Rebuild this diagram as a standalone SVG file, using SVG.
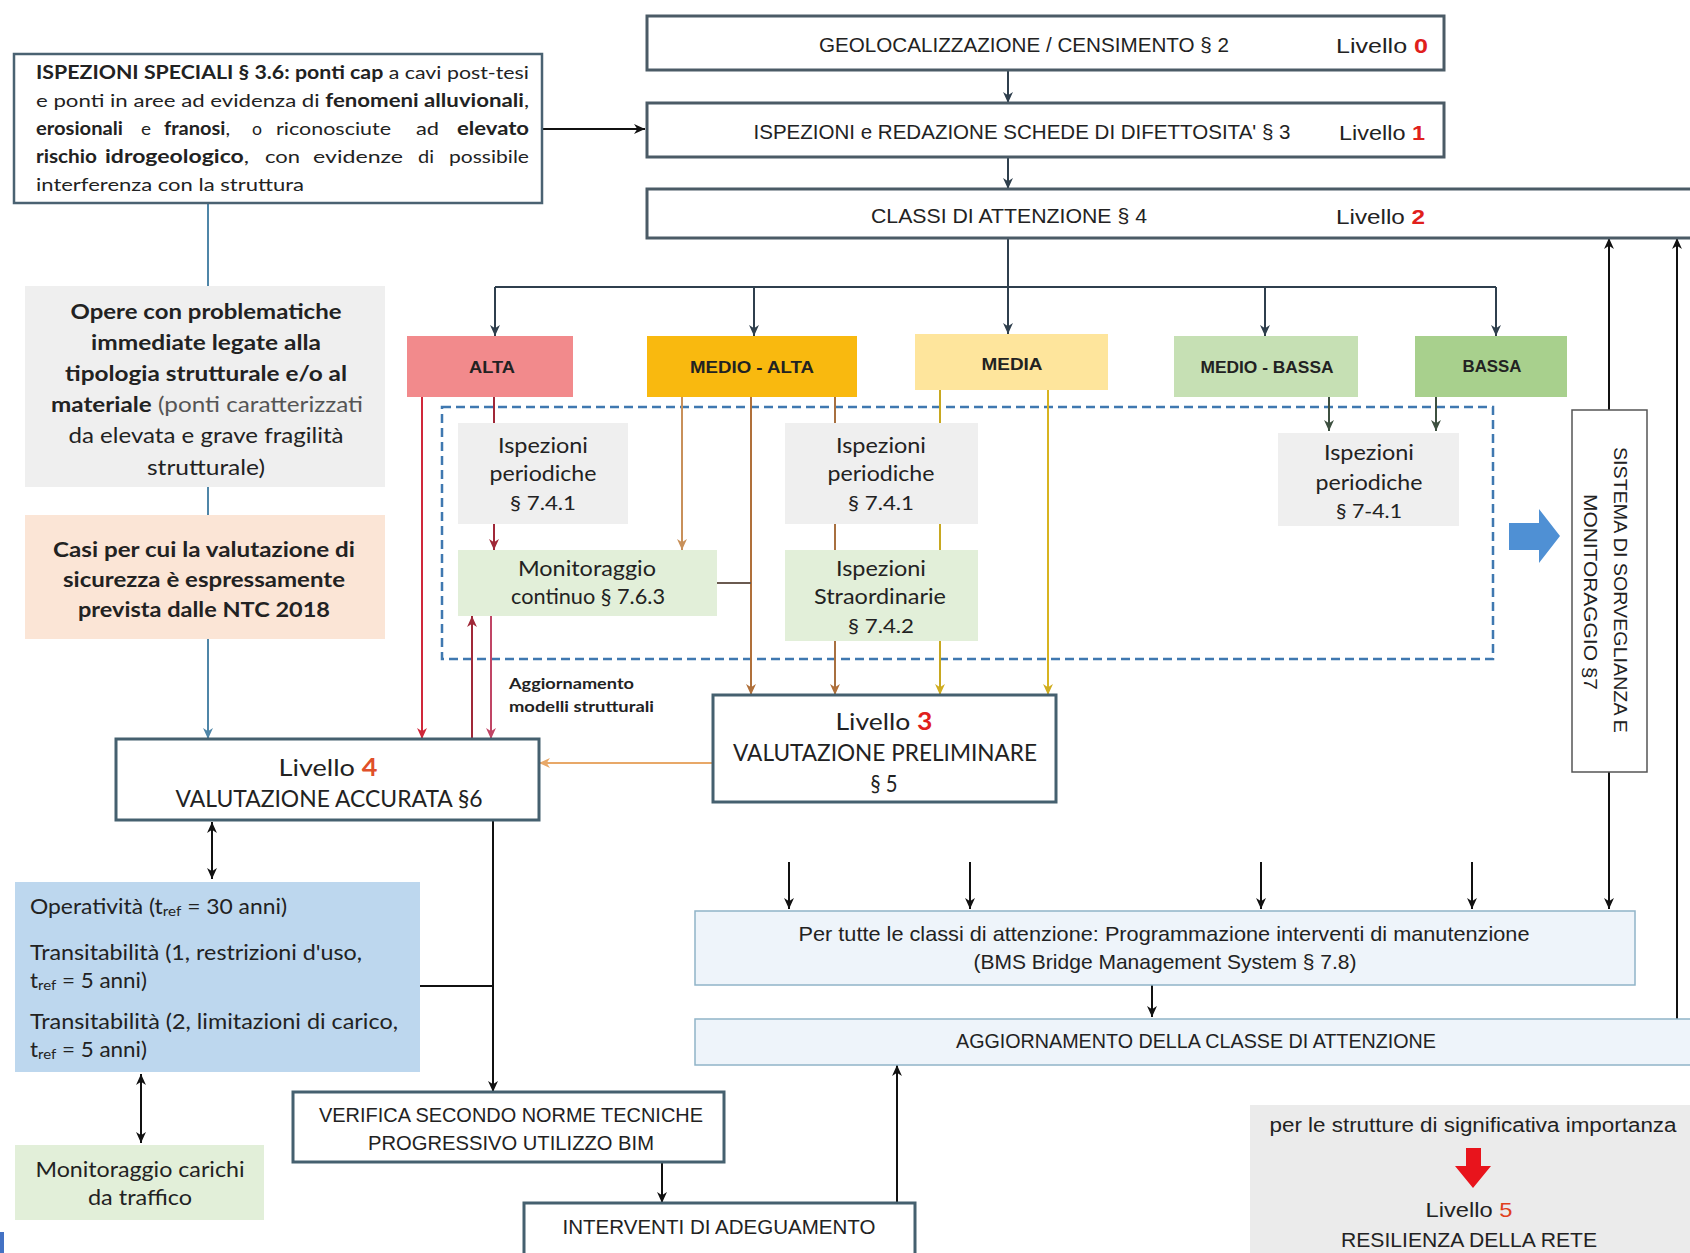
<svg xmlns="http://www.w3.org/2000/svg" width="1690" height="1253" viewBox="0 0 1690 1253">
<defs>
<style>
text { font-family: Lato, "Open Sans", "Liberation Sans", sans-serif; fill: #222; dominant-baseline: central; }
.c { text-anchor: middle; }
.n { font-family: "Liberation Sans", Arial, sans-serif; }
.b { font-weight: bold; }
.red { fill: #e0201c; font-weight: bold; }
.org { fill: #e0502a; font-weight: bold; }
.hbox { fill: #ffffff; stroke: #4b5b66; stroke-width: 3; }
.mbox { fill: #ffffff; stroke: #45606f; stroke-width: 3; }
.lbox { fill: #eef4fa; stroke: #90b4c8; stroke-width: 1.5; }
.grey { fill: #efefef; }
.lgreen { fill: #e2efd9; }
.ln { fill: none; stroke-width: 2; }
.k { stroke: #111; }
.sl { stroke: #2f3f4d; }
.w { font-size: 18px; }
</style>
<marker id="mk" viewBox="0 0 10 10" refX="10" refY="5" markerWidth="11" markerHeight="11" markerUnits="userSpaceOnUse" orient="auto-start-reverse"><path d="M0,0.5 L10,5 L0,9.5 L3,5 z" fill="#111"/></marker>
<marker id="ms" viewBox="0 0 10 10" refX="10" refY="5" markerWidth="11" markerHeight="11" markerUnits="userSpaceOnUse" orient="auto-start-reverse"><path d="M0,0.5 L10,5 L0,9.5 L3,5 z" fill="#2f3f4d"/></marker>
<marker id="mb" viewBox="0 0 10 10" refX="10" refY="5" markerWidth="11" markerHeight="11" markerUnits="userSpaceOnUse" orient="auto-start-reverse"><path d="M0,0.5 L10,5 L0,9.5 L3,5 z" fill="#4f86a8"/></marker>
<marker id="mr" viewBox="0 0 10 10" refX="10" refY="5" markerWidth="11" markerHeight="11" markerUnits="userSpaceOnUse" orient="auto-start-reverse"><path d="M0,0.5 L10,5 L0,9.5 L3,5 z" fill="#d0283a"/></marker>
<marker id="mdr" viewBox="0 0 10 10" refX="10" refY="5" markerWidth="11" markerHeight="11" markerUnits="userSpaceOnUse" orient="auto-start-reverse"><path d="M0,0.5 L10,5 L0,9.5 L3,5 z" fill="#a02838"/></marker>
<marker id="mp" viewBox="0 0 10 10" refX="10" refY="5" markerWidth="11" markerHeight="11" markerUnits="userSpaceOnUse" orient="auto-start-reverse"><path d="M0,0.5 L10,5 L0,9.5 L3,5 z" fill="#c04565"/></marker>
<marker id="mt" viewBox="0 0 10 10" refX="10" refY="5" markerWidth="11" markerHeight="11" markerUnits="userSpaceOnUse" orient="auto-start-reverse"><path d="M0,0.5 L10,5 L0,9.5 L3,5 z" fill="#c8905a"/></marker>
<marker id="mbr" viewBox="0 0 10 10" refX="10" refY="5" markerWidth="11" markerHeight="11" markerUnits="userSpaceOnUse" orient="auto-start-reverse"><path d="M0,0.5 L10,5 L0,9.5 L3,5 z" fill="#b0703a"/></marker>
<marker id="my" viewBox="0 0 10 10" refX="10" refY="5" markerWidth="11" markerHeight="11" markerUnits="userSpaceOnUse" orient="auto-start-reverse"><path d="M0,0.5 L10,5 L0,9.5 L3,5 z" fill="#d0ad20"/></marker>
<marker id="mo" viewBox="0 0 10 10" refX="10" refY="5" markerWidth="11" markerHeight="11" markerUnits="userSpaceOnUse" orient="auto-start-reverse"><path d="M0,0.5 L10,5 L0,9.5 L3,5 z" fill="#e8a868"/></marker>
<marker id="mg" viewBox="0 0 10 10" refX="10" refY="5" markerWidth="11" markerHeight="11" markerUnits="userSpaceOnUse" orient="auto-start-reverse"><path d="M0,0.5 L10,5 L0,9.5 L3,5 z" fill="#3d5040"/></marker>
</defs>
<rect x="0" y="0" width="1690" height="1253" fill="#ffffff"/>

<!-- dashed group frame -->
<g id="dashed-frame">
<rect x="442" y="407" width="1051" height="252" fill="none" stroke="#3f78b0" stroke-width="2.5" stroke-dasharray="9 5"/>
</g>

<!-- connectors -->
<g id="connectors">
<path class="ln sl" d="M1008,70 V103" marker-end="url(#ms)"/>
<path class="ln sl" d="M1008,157 V189" marker-end="url(#ms)"/>
<path class="ln k" stroke-width="2.5" d="M542,129 H645" marker-end="url(#mk)"/>
<path class="ln sl" d="M1008,238 V334" marker-end="url(#ms)"/>
<path class="ln sl" stroke-width="3" d="M495,287 H1496"/>
<path class="ln sl" d="M495,287 V336" marker-end="url(#ms)"/>
<path class="ln sl" d="M754,287 V336" marker-end="url(#ms)"/>
<path class="ln sl" d="M1265,287 V336" marker-end="url(#ms)"/>
<path class="ln sl" d="M1496,287 V336" marker-end="url(#ms)"/>
<path class="ln" stroke="#4f86a8" d="M208,203 V286 M208,487 V515"/>
<path class="ln" stroke="#4f86a8" d="M208,639 V739" marker-end="url(#mb)"/>
<path class="ln" stroke="#d0283a" d="M422,397 V739" marker-end="url(#mr)"/>
<path class="ln" stroke="#a02838" d="M494,397 V550" marker-end="url(#mdr)"/>
<path class="ln" stroke="#a02838" d="M472,739 V616" marker-end="url(#mdr)"/>
<path class="ln" stroke="#c04565" d="M491,616 V739" marker-end="url(#mp)"/>
<path class="ln" stroke="#c8905a" d="M682,397 V550" marker-end="url(#mt)"/>
<path class="ln" stroke="#b0703a" d="M751,397 V695" marker-end="url(#mbr)"/>
<path class="ln" stroke="#6a5a50" d="M717,583 H751"/>
<path class="ln" stroke="#a87040" d="M835,397 V695" marker-end="url(#mbr)"/>
<path class="ln" stroke="#c8a820" d="M940,390 V695" marker-end="url(#my)"/>
<path class="ln" stroke="#d8b420" d="M1048,390 V695" marker-end="url(#my)"/>
<path class="ln" stroke="#3d5040" d="M1329,397 V431" marker-end="url(#mg)"/>
<path class="ln" stroke="#3d5040" d="M1436,397 V431" marker-end="url(#mg)"/>
<path class="ln" stroke="#e8a868" d="M713,763 H539" marker-end="url(#mo)"/>
<path class="ln k" d="M212,822 V879" marker-start="url(#mk)" marker-end="url(#mk)"/>
<path class="ln k" d="M141,1074 V1143" marker-start="url(#mk)" marker-end="url(#mk)"/>
<path class="ln k" d="M493,820 V1092" marker-end="url(#mk)"/>
<path class="ln k" d="M420,986 H493"/>
<path class="ln k" d="M662,1162 V1203" marker-end="url(#mk)"/>
<path class="ln k" d="M897,1203 V1065" marker-end="url(#mk)"/>
<path class="ln k" d="M789,862 V909" marker-end="url(#mk)"/>
<path class="ln k" d="M970,862 V909" marker-end="url(#mk)"/>
<path class="ln k" d="M1261,862 V909" marker-end="url(#mk)"/>
<path class="ln k" d="M1472,862 V909" marker-end="url(#mk)"/>
<path class="ln k" d="M1609,410 V238" marker-end="url(#mk)"/>
<path class="ln k" d="M1609,772 V909" marker-end="url(#mk)"/>
<path class="ln k" d="M1677,1019 V238" marker-end="url(#mk)"/>
<path class="ln k" d="M1152,985 V1017" marker-end="url(#mk)"/>
</g>

<!-- top level boxes -->
<g id="n-geo">
<rect class="hbox" x="647" y="16" width="797" height="54"/>
<text class="c n" x="1024" y="44" font-size="21" textLength="410" lengthAdjust="spacingAndGlyphs">GEOLOCALIZZAZIONE / CENSIMENTO § 2</text>
<text class="n" x="1336" y="45" font-size="21" textLength="92" lengthAdjust="spacingAndGlyphs">Livello <tspan class="red">0</tspan></text>
</g>
<g id="n-isp">
<rect class="hbox" x="647" y="103" width="797" height="54"/>
<text class="c n" x="1022" y="131" font-size="21" textLength="537" lengthAdjust="spacingAndGlyphs">ISPEZIONI e REDAZIONE SCHEDE DI DIFETTOSITA' § 3</text>
<text class="n" x="1339" y="132" font-size="21" textLength="86" lengthAdjust="spacingAndGlyphs">Livello <tspan class="red">1</tspan></text>
</g>
<g id="n-classi">
<rect class="hbox" x="647" y="189" width="1050" height="49"/>
<text class="c n" x="1009" y="215" font-size="21" textLength="276" lengthAdjust="spacingAndGlyphs">CLASSI DI ATTENZIONE § 4</text>
<text class="n" x="1336" y="216" font-size="21" textLength="89" lengthAdjust="spacingAndGlyphs">Livello <tspan class="red">2</tspan></text>
</g>

<g id="n-speciali">
<rect x="14" y="54" width="528" height="149" fill="#ffffff" stroke="#4a6272" stroke-width="2.5"/>
<text x="36" y="72" font-size="18" textLength="493" lengthAdjust="spacingAndGlyphs"><tspan class="b">ISPEZIONI SPECIALI § 3.6: ponti cap</tspan> a cavi post-tesi</text>
<text x="36" y="100" font-size="18" textLength="493" lengthAdjust="spacingAndGlyphs">e ponti in aree ad evidenza di <tspan class="b">fenomeni alluvionali</tspan>,</text>
<text class="w b" x="36" y="128" textLength="87" lengthAdjust="spacingAndGlyphs">erosionali</text>
<text class="w" x="141" y="128" textLength="10" lengthAdjust="spacingAndGlyphs">e</text>
<text class="w" x="164" y="128" textLength="66" lengthAdjust="spacingAndGlyphs"><tspan class="b">franosi</tspan>,</text>
<text class="w" x="252" y="128" textLength="10" lengthAdjust="spacingAndGlyphs">o</text>
<text class="w" x="276" y="128" textLength="115" lengthAdjust="spacingAndGlyphs">riconosciute</text>
<text class="w" x="416" y="128" textLength="23" lengthAdjust="spacingAndGlyphs">ad</text>
<text class="w b" x="457" y="128" textLength="72" lengthAdjust="spacingAndGlyphs">elevato</text>
<text class="w b" x="36" y="156" textLength="61" lengthAdjust="spacingAndGlyphs">rischio</text>
<text class="w" x="105" y="156" textLength="144" lengthAdjust="spacingAndGlyphs"><tspan class="b">idrogeologico</tspan>,</text>
<text class="w" x="265" y="156" textLength="35" lengthAdjust="spacingAndGlyphs">con</text>
<text class="w" x="313" y="156" textLength="90" lengthAdjust="spacingAndGlyphs">evidenze</text>
<text class="w" x="418" y="156" textLength="16" lengthAdjust="spacingAndGlyphs">di</text>
<text class="w" x="449" y="156" textLength="80" lengthAdjust="spacingAndGlyphs">possibile</text>
<text x="36" y="184" font-size="18" textLength="268" lengthAdjust="spacingAndGlyphs">interferenza con la struttura</text>
</g>

<g id="n-opere">
<rect class="grey" x="25" y="286" width="360" height="201"/>
<text class="c b" x="206" y="310" font-size="21" fill="#333" textLength="271" lengthAdjust="spacingAndGlyphs">Opere con problematiche</text>
<text class="c b" x="206" y="341" font-size="21" textLength="230" lengthAdjust="spacingAndGlyphs">immediate legate alla</text>
<text class="c b" x="206" y="372" font-size="21" textLength="282" lengthAdjust="spacingAndGlyphs">tipologia strutturale e/o al</text>
<text class="c" x="207" y="403" font-size="21" textLength="312" lengthAdjust="spacingAndGlyphs"><tspan class="b">materiale</tspan> <tspan fill="#555">(ponti caratterizzati</tspan></text>
<text class="c" x="206" y="434" font-size="21" fill="#555" textLength="275" lengthAdjust="spacingAndGlyphs">da elevata e grave fragilità</text>
<text class="c" x="206" y="466" font-size="21" fill="#555" textLength="118" lengthAdjust="spacingAndGlyphs">strutturale)</text>
</g>

<g id="n-casi">
<rect x="25" y="515" width="360" height="124" fill="#fbe5d6"/>
<text class="c b" x="204" y="548" font-size="21" textLength="302" lengthAdjust="spacingAndGlyphs">Casi per cui la valutazione di</text>
<text class="c b" x="204" y="578" font-size="21" textLength="282" lengthAdjust="spacingAndGlyphs">sicurezza è espressamente</text>
<text class="c b" x="204" y="608" font-size="21" textLength="252" lengthAdjust="spacingAndGlyphs">prevista dalle NTC 2018</text>
</g>

<!-- classes -->
<g id="n-alta">
<rect x="407" y="336" width="166" height="61" fill="#f28a8c"/>
<text class="c n b" x="492" y="367" font-size="17" textLength="46" lengthAdjust="spacingAndGlyphs">ALTA</text>
</g>
<g id="n-medioalta">
<rect x="647" y="336" width="210" height="61" fill="#f9b90f"/>
<text class="c n b" x="752" y="367" font-size="17" textLength="124" lengthAdjust="spacingAndGlyphs">MEDIO - ALTA</text>
</g>
<g id="n-media">
<rect x="915" y="334" width="193" height="56" fill="#fee59c"/>
<text class="c n b" x="1012" y="364" font-size="17" textLength="61" lengthAdjust="spacingAndGlyphs">MEDIA</text>
</g>
<g id="n-mediobassa">
<rect x="1174" y="336" width="184" height="61" fill="#c6e0b4"/>
<text class="c n b" x="1267" y="367" font-size="17" textLength="133" lengthAdjust="spacingAndGlyphs">MEDIO - BASSA</text>
</g>
<g id="n-bassa">
<rect x="1415" y="336" width="152" height="61" fill="#a8d08d"/>
<text class="c n b" x="1492" y="366" font-size="17" textLength="59" lengthAdjust="spacingAndGlyphs">BASSA</text>
</g>

<!-- inner boxes -->
<g id="n-isp-per-1">
<rect class="grey" x="458" y="423" width="170" height="101"/>
<text class="c" x="543" y="444" font-size="21" textLength="90" lengthAdjust="spacingAndGlyphs">Ispezioni</text>
<text class="c" x="543" y="472" font-size="21" textLength="107" lengthAdjust="spacingAndGlyphs">periodiche</text>
<text class="c" x="543" y="502" font-size="20" textLength="66" lengthAdjust="spacingAndGlyphs">§ 7.4.1</text>
</g>
<g id="n-monit">
<rect class="lgreen" x="458" y="550" width="259" height="66"/>
<text class="c" x="587" y="567" font-size="21" textLength="138" lengthAdjust="spacingAndGlyphs">Monitoraggio</text>
<text class="c" x="588" y="595" font-size="21" textLength="154" lengthAdjust="spacingAndGlyphs">continuo § 7.6.3</text>
</g>
<g id="n-isp-per-2">
<rect class="grey" x="785" y="423" width="193" height="101"/>
<text class="c" x="881" y="444" font-size="21" textLength="90" lengthAdjust="spacingAndGlyphs">Ispezioni</text>
<text class="c" x="881" y="472" font-size="21" textLength="107" lengthAdjust="spacingAndGlyphs">periodiche</text>
<text class="c" x="881" y="502" font-size="20" textLength="66" lengthAdjust="spacingAndGlyphs">§ 7.4.1</text>
</g>
<g id="n-isp-str">
<rect class="lgreen" x="785" y="550" width="193" height="91"/>
<text class="c" x="881" y="567" font-size="21" textLength="90" lengthAdjust="spacingAndGlyphs">Ispezioni</text>
<text class="c" x="880" y="595" font-size="21" textLength="132" lengthAdjust="spacingAndGlyphs">Straordinarie</text>
<text class="c" x="881" y="625" font-size="20" fill="#555" textLength="66" lengthAdjust="spacingAndGlyphs">§ 7.4.2</text>
</g>
<g id="n-isp-per-3">
<rect class="grey" x="1278" y="433" width="181" height="93"/>
<text class="c" x="1369" y="451" font-size="21" textLength="90" lengthAdjust="spacingAndGlyphs">Ispezioni</text>
<text class="c" x="1369" y="481" font-size="21" textLength="107" lengthAdjust="spacingAndGlyphs">periodiche</text>
<text class="c" x="1369" y="510" font-size="20" textLength="66" lengthAdjust="spacingAndGlyphs">§ 7-4.1</text>
</g>

<g id="n-bluearrow">
<polygon points="1509,523 1539,523 1539,509 1560,536 1539,563 1539,550 1509,550" fill="#4f90d4"/>
</g>

<g id="n-sistema">
<rect x="1572" y="410" width="75" height="362" fill="#ffffff" stroke="#555" stroke-width="1.5"/>
<text class="c n" transform="translate(1620,590) rotate(90)" font-size="19" textLength="286" lengthAdjust="spacingAndGlyphs">SISTEMA DI SORVEGLIANZA E</text>
<text class="c n" transform="translate(1590,592) rotate(90)" font-size="19" textLength="196" lengthAdjust="spacingAndGlyphs">MONITORAGGIO §7</text>
</g>

<g id="n-aggiornamento-label">
<text x="509" y="683" font-size="15" font-weight="bold" fill="#444" textLength="125" lengthAdjust="spacingAndGlyphs">Aggiornamento</text>
<text x="509" y="706" font-size="15" font-weight="bold" fill="#444" textLength="145" lengthAdjust="spacingAndGlyphs">modelli strutturali</text>
</g>

<g id="n-liv3">
<rect class="mbox" x="713" y="695" width="343" height="107"/>
<text class="c" x="884" y="720" font-size="24" textLength="97" lengthAdjust="spacingAndGlyphs">Livello <tspan class="red">3</tspan></text>
<text class="c" x="885" y="751" font-size="24" textLength="304" lengthAdjust="spacingAndGlyphs">VALUTAZIONE PRELIMINARE</text>
<text class="c" x="884" y="782" font-size="24" textLength="27" lengthAdjust="spacingAndGlyphs">§ 5</text>
</g>

<g id="n-liv4">
<rect class="mbox" x="116" y="739" width="423" height="81"/>
<text class="c" x="328" y="766" font-size="24" textLength="99" lengthAdjust="spacingAndGlyphs">Livello <tspan class="org">4</tspan></text>
<text class="c" x="329" y="797" font-size="24" textLength="307" lengthAdjust="spacingAndGlyphs">VALUTAZIONE ACCURATA §6</text>
</g>

<g id="n-operativita">
<rect x="15" y="882" width="405" height="190" fill="#bdd7ee"/>
<text x="30" y="905" font-size="21" textLength="257" lengthAdjust="spacingAndGlyphs">Operatività (t<tspan font-size="14" dy="5">ref</tspan><tspan dy="-5"> = 30 anni)</tspan></text>
<text x="30" y="951" font-size="21" textLength="332" lengthAdjust="spacingAndGlyphs">Transitabilità (1, restrizioni d'uso,</text>
<text x="30" y="979" font-size="21" textLength="117" lengthAdjust="spacingAndGlyphs">t<tspan font-size="14" dy="5">ref</tspan><tspan dy="-5"> = 5 anni)</tspan></text>
<text x="30" y="1020" font-size="21" textLength="368" lengthAdjust="spacingAndGlyphs">Transitabilità (2, limitazioni di carico,</text>
<text x="30" y="1048" font-size="21" textLength="117" lengthAdjust="spacingAndGlyphs">t<tspan font-size="14" dy="5">ref</tspan><tspan dy="-5"> = 5 anni)</tspan></text>
</g>

<g id="n-monit-carichi">
<rect class="lgreen" x="15" y="1145" width="249" height="75"/>
<text class="c" x="140" y="1168" font-size="21" textLength="209" lengthAdjust="spacingAndGlyphs">Monitoraggio carichi</text>
<text class="c" x="140" y="1196" font-size="21" textLength="104" lengthAdjust="spacingAndGlyphs">da traffico</text>
</g>

<g id="n-verifica">
<rect class="mbox" x="293" y="1092" width="431" height="70"/>
<text class="c n" x="511" y="1114" font-size="21" textLength="384" lengthAdjust="spacingAndGlyphs">VERIFICA SECONDO NORME TECNICHE</text>
<text class="c n" x="511" y="1142" font-size="21" textLength="286" lengthAdjust="spacingAndGlyphs">PROGRESSIVO UTILIZZO BIM</text>
</g>

<g id="n-interventi">
<rect class="mbox" x="524" y="1203" width="391" height="52"/>
<text class="c n" x="719" y="1227" font-size="20" textLength="313" lengthAdjust="spacingAndGlyphs">INTERVENTI DI ADEGUAMENTO</text>
</g>

<g id="n-pertutte">
<rect class="lbox" x="695" y="911" width="940" height="74"/>
<text class="c n" x="1164" y="933" font-size="21" textLength="731" lengthAdjust="spacingAndGlyphs">Per tutte le classi di attenzione: Programmazione interventi di manutenzione</text>
<text class="c n" x="1165" y="961" font-size="21" textLength="383" lengthAdjust="spacingAndGlyphs">(BMS Bridge Management System § 7.8)</text>
</g>

<g id="n-aggiorn-classe">
<rect class="lbox" x="695" y="1019" width="1000" height="46"/>
<text class="c n" x="1196" y="1041" font-size="20" textLength="480" lengthAdjust="spacingAndGlyphs">AGGIORNAMENTO DELLA CLASSE DI ATTENZIONE</text>
</g>

<g id="n-liv5">
<rect x="1250" y="1105" width="445" height="150" fill="#ebebeb"/>
<text class="c n" x="1473" y="1125" font-size="20" textLength="407" lengthAdjust="spacingAndGlyphs">per le strutture di significativa importanza</text>
<polygon points="1466,1148 1481,1148 1481,1166 1491,1166 1473,1188 1455,1166 1466,1166" fill="#e8141c"/>
<text class="c n" x="1469" y="1209" font-size="21" textLength="87" lengthAdjust="spacingAndGlyphs">Livello <tspan fill="#e0401c">5</tspan></text>
<text class="c n" x="1469" y="1239" font-size="21" textLength="256" lengthAdjust="spacingAndGlyphs">RESILIENZA DELLA RETE</text>
</g>

<rect x="0" y="1232" width="4" height="21" fill="#4472c4"/>
</svg>
